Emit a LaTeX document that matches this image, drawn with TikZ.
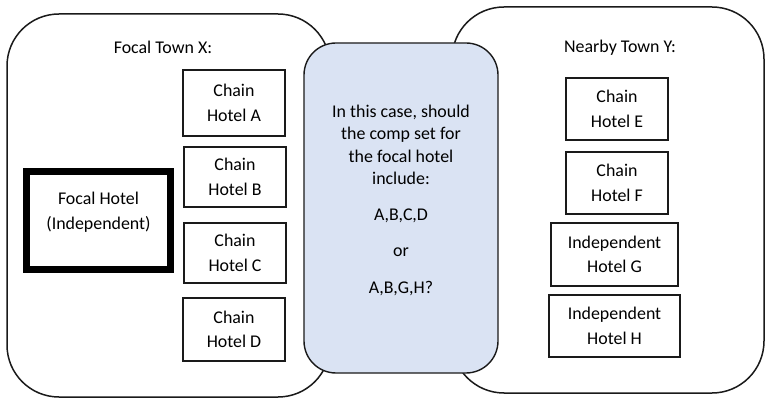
\documentclass[tikz,border=0pt]{standalone}
\usepackage{fontspec}
\setmainfont{Carlito}
\definecolor{qfill}{HTML}{DAE3F3}
\definecolor{edge}{HTML}{1A1A1A}
\begin{document}
\begin{tikzpicture}[x=1pt,y=-1pt,
  town/.style={draw=edge, line width=1.5pt, rounded corners=52pt, fill=white, inner sep=0pt},
  hotel/.style={draw=edge, line width=1.4pt, fill=white, align=center, inner sep=0pt,
    font=\fontsize{17.9}{24.5}\selectfont},
  focal/.style={draw=black, line width=7pt, fill=white, align=center, inner sep=0pt,
    font=\fontsize{17.9}{25}\selectfont},
  question/.style={draw=edge, line width=1.4pt, rounded corners=32pt, fill=qfill, inner sep=0pt},
  txt/.style={align=center, inner sep=0pt, font=\fontsize{17.9}{22.5}\selectfont}]
\useasboundingbox (0,0) rectangle (766,398);
% towns
\node[town, minimum width=323pt, minimum height=383pt] (townX) at (168.5,205.5) {};
\node[town, minimum width=312pt, minimum height=386pt] (townY) at (608,200) {};
\node[txt] (titleX) at (163,47) {Focal Town X:};
\node[txt] (titleY) at (620,48) {Nearby Town Y:};
% focal town hotels
\node[focal, minimum width=144pt, minimum height=98pt] (focal) at (98.5,220.5) {Focal Hotel\\(Independent)\\[-6pt]\mbox{}};
\node[hotel, minimum width=102pt, minimum height=66pt] (A) at (234,103) {Chain\\Hotel A};
\node[hotel, minimum width=102pt, minimum height=60pt] (B) at (235,177) {Chain\\Hotel B};
\node[hotel, minimum width=102pt, minimum height=60pt] (C) at (235,253) {Chain\\Hotel C};
\node[hotel, minimum width=102pt, minimum height=63pt] (D) at (234,329.5) {Chain\\Hotel D};
% nearby town hotels
\node[hotel, minimum width=102pt, minimum height=62pt] (E) at (617,109) {Chain\\Hotel E};
\node[hotel, minimum width=102pt, minimum height=62pt] (F) at (617,183) {Chain\\Hotel F};
\node[hotel, minimum width=127pt, minimum height=63pt] (G) at (614.5,254.5) {Independent\\Hotel G};
\node[hotel, minimum width=131pt, minimum height=62pt] (H) at (614.5,326) {Independent\\Hotel H};
% question box
\node[question, minimum width=194pt, minimum height=330pt] (qbox) at (401,208) {};
\node[txt] (q) at (401,200) {In this case, should\\the comp set for\\the focal hotel\\include:\\[13pt]A,B,C,D\\[14pt]or\\[14pt]A,B,G,H?};
\end{tikzpicture}
\end{document}
